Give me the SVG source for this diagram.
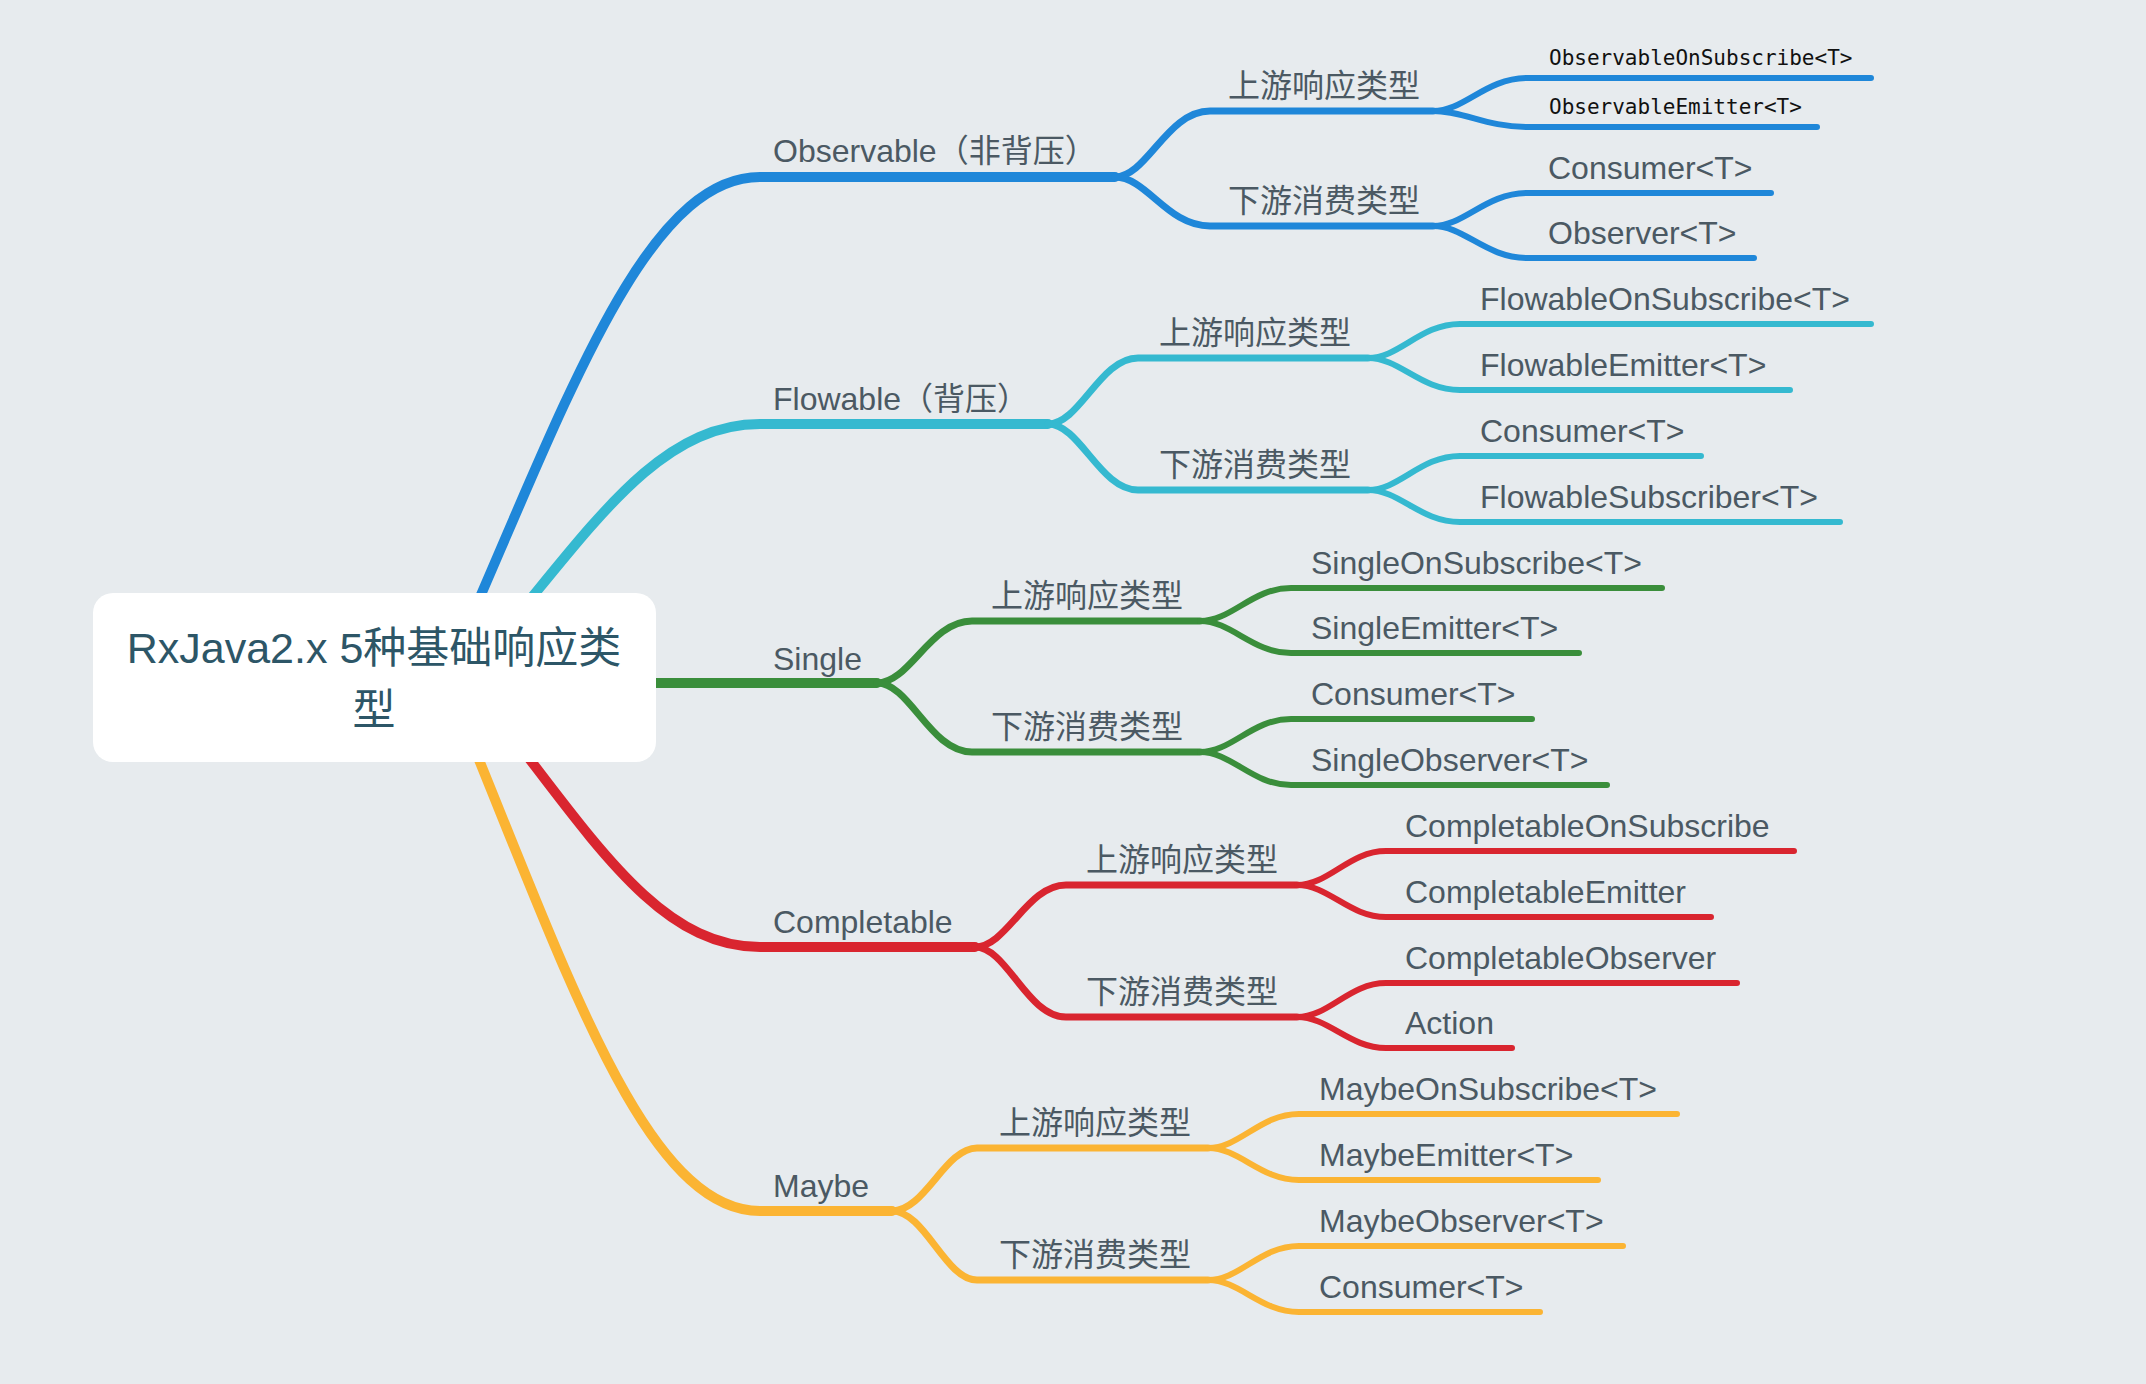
<svg xmlns="http://www.w3.org/2000/svg" width="2146" height="1384" viewBox="0 0 2146 1384">
<style>
.l1{fill:none;stroke-width:10;stroke-linecap:round;stroke-linejoin:round}
.l2{fill:none;stroke-width:7;stroke-linecap:round;stroke-linejoin:round}
.l3{fill:none;stroke-width:6;stroke-linecap:round;stroke-linejoin:round}
.b{stroke:#1f87d9}.c{stroke:#35b9d0}.g{stroke:#3a8e3b}.r{stroke:#d9252f}.y{stroke:#fbb433}
.t{font-family:"Liberation Sans","Noto Sans CJK SC",sans-serif;font-size:32px;fill:#4b5963}
.m{font-family:"DejaVu Sans Mono","Liberation Mono",monospace;font-size:21px;fill:#111}
.root{font-family:"Liberation Sans","Noto Sans CJK SC",sans-serif;font-size:43px;fill:#2d5667;text-anchor:middle}
</style>
<rect width="2146" height="1384" fill="#e7ebee"/>
<g id="connectors">
<!-- level 1 -->
<path class="l1 b" d="M445 677 C560 420 640 177 760 177 L1115 177"/>
<path class="l1 c" d="M465 677 C580 547 648 424 760 424 L1048 424"/>
<path class="l1 g" d="M640 683 L877 683"/>
<path class="l1 r" d="M465 677 C580 816 648 947 760 947 L975 947"/>
<path class="l1 y" d="M445 677 C560 951 640 1211 760 1211 L892 1211"/>
<!-- level 2 -->
<path class="l2 b" d="M1115 177 C1147 177 1167 111 1210 111 L1433 111"/>
<path class="l2 b" d="M1115 177 C1147 177 1167 226 1210 226 L1433 226"/>
<path class="l2 c" d="M1048 424 C1080 424 1100 358 1138 358 L1368 358"/>
<path class="l2 c" d="M1048 424 C1080 424 1100 490 1138 490 L1368 490"/>
<path class="l2 g" d="M877 683 C910 683 930 621 972 621 L1200 621"/>
<path class="l2 g" d="M877 683 C910 683 930 752 972 752 L1200 752"/>
<path class="l2 r" d="M975 947 C1007 947 1027 885 1066 885 L1297 885"/>
<path class="l2 r" d="M975 947 C1007 947 1027 1017 1066 1017 L1297 1017"/>
<path class="l2 y" d="M892 1211 C925 1211 945 1148 977 1148 L1208 1148"/>
<path class="l2 y" d="M892 1211 C925 1211 945 1280 977 1280 L1208 1280"/>
<!-- level 3 -->
<path class="l3 b" d="M1433 111 C1465 111 1485 78 1528 78 L1871 78"/>
<path class="l3 b" d="M1433 111 C1465 111 1485 127 1528 127 L1817 127"/>
<path class="l3 b" d="M1433 226 C1465 226 1485 193 1528 193 L1771 193"/>
<path class="l3 b" d="M1433 226 C1465 226 1485 258 1528 258 L1754 258"/>
<path class="l3 c" d="M1368 358 C1400 358 1420 324 1460 324 L1871 324"/>
<path class="l3 c" d="M1368 358 C1400 358 1420 390 1460 390 L1790 390"/>
<path class="l3 c" d="M1368 490 C1400 490 1420 456 1460 456 L1701 456"/>
<path class="l3 c" d="M1368 490 C1400 490 1420 522 1460 522 L1840 522"/>
<path class="l3 g" d="M1200 621 C1232 621 1252 588 1291 588 L1662 588"/>
<path class="l3 g" d="M1200 621 C1232 621 1252 653 1291 653 L1579 653"/>
<path class="l3 g" d="M1200 752 C1232 752 1252 719 1291 719 L1532 719"/>
<path class="l3 g" d="M1200 752 C1232 752 1252 785 1291 785 L1607 785"/>
<path class="l3 r" d="M1297 885 C1329 885 1349 851 1386 851 L1794 851"/>
<path class="l3 r" d="M1297 885 C1329 885 1349 917 1386 917 L1711 917"/>
<path class="l3 r" d="M1297 1017 C1329 1017 1349 983 1386 983 L1737 983"/>
<path class="l3 r" d="M1297 1017 C1329 1017 1349 1048 1386 1048 L1512 1048"/>
<path class="l3 y" d="M1208 1148 C1240 1148 1260 1114 1299 1114 L1677 1114"/>
<path class="l3 y" d="M1208 1148 C1240 1148 1260 1180 1299 1180 L1598 1180"/>
<path class="l3 y" d="M1208 1280 C1240 1280 1260 1246 1299 1246 L1623 1246"/>
<path class="l3 y" d="M1208 1280 C1240 1280 1260 1312 1299 1312 L1540 1312"/>
</g>
<g id="root">
<rect x="93" y="593" width="563" height="169" rx="20" fill="#ffffff"/>
<text class="root" x="374" y="663">RxJava2.x 5种基础响应类</text>
<text class="root" x="374" y="725">型</text>
</g>
<g id="observable"><text class="t" x="773" y="162">Observable（非背压）</text></g>
<g id="obs-up"><text class="t" x="1228" y="97">上游响应类型</text></g>
<g id="obs-down"><text class="t" x="1228" y="212">下游消费类型</text></g>
<g id="obs-up-1"><text class="m" x="1549" y="65">ObservableOnSubscribe&lt;T&gt;</text></g>
<g id="obs-up-2"><text class="m" x="1549" y="114">ObservableEmitter&lt;T&gt;</text></g>
<g id="obs-down-1"><text class="t" x="1548" y="179">Consumer&lt;T&gt;</text></g>
<g id="obs-down-2"><text class="t" x="1548" y="244">Observer&lt;T&gt;</text></g>

<g id="flowable"><text class="t" x="773" y="410">Flowable（背压）</text></g>
<g id="flo-up"><text class="t" x="1159" y="344">上游响应类型</text></g>
<g id="flo-down"><text class="t" x="1159" y="476">下游消费类型</text></g>
<g id="flo-up-1"><text class="t" x="1480" y="310">FlowableOnSubscribe&lt;T&gt;</text></g>
<g id="flo-up-2"><text class="t" x="1480" y="376">FlowableEmitter&lt;T&gt;</text></g>
<g id="flo-down-1"><text class="t" x="1480" y="442">Consumer&lt;T&gt;</text></g>
<g id="flo-down-2"><text class="t" x="1480" y="508">FlowableSubscriber&lt;T&gt;</text></g>

<g id="single"><text class="t" x="773" y="670">Single</text></g>
<g id="sin-up"><text class="t" x="991" y="607">上游响应类型</text></g>
<g id="sin-down"><text class="t" x="991" y="738">下游消费类型</text></g>
<g id="sin-up-1"><text class="t" x="1311" y="574">SingleOnSubscribe&lt;T&gt;</text></g>
<g id="sin-up-2"><text class="t" x="1311" y="639">SingleEmitter&lt;T&gt;</text></g>
<g id="sin-down-1"><text class="t" x="1311" y="705">Consumer&lt;T&gt;</text></g>
<g id="sin-down-2"><text class="t" x="1311" y="771">SingleObserver&lt;T&gt;</text></g>

<g id="completable"><text class="t" x="773" y="933">Completable</text></g>
<g id="com-up"><text class="t" x="1086" y="871">上游响应类型</text></g>
<g id="com-down"><text class="t" x="1086" y="1003">下游消费类型</text></g>
<g id="com-up-1"><text class="t" x="1405" y="837">CompletableOnSubscribe</text></g>
<g id="com-up-2"><text class="t" x="1405" y="903">CompletableEmitter</text></g>
<g id="com-down-1"><text class="t" x="1405" y="969">CompletableObserver</text></g>
<g id="com-down-2"><text class="t" x="1405" y="1034">Action</text></g>

<g id="maybe"><text class="t" x="773" y="1197">Maybe</text></g>
<g id="may-up"><text class="t" x="999" y="1134">上游响应类型</text></g>
<g id="may-down"><text class="t" x="999" y="1266">下游消费类型</text></g>
<g id="may-up-1"><text class="t" x="1319" y="1100">MaybeOnSubscribe&lt;T&gt;</text></g>
<g id="may-up-2"><text class="t" x="1319" y="1166">MaybeEmitter&lt;T&gt;</text></g>
<g id="may-down-1"><text class="t" x="1319" y="1232">MaybeObserver&lt;T&gt;</text></g>
<g id="may-down-2"><text class="t" x="1319" y="1298">Consumer&lt;T&gt;</text></g>
</svg>
